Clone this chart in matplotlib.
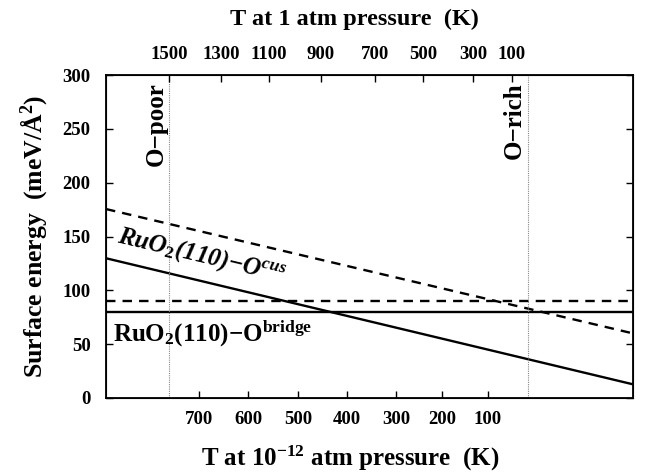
import matplotlib
matplotlib.use("Agg")
import matplotlib.pyplot as plt

# ---- data (x = oxygen chemical potential, eV) ----
x_range = [-2.0, 0.5]
gamma_cus_sloped = [175.5, 60.0]      # dashed sloped line
gamma_bridge_sloped = [129.8, 12.7]   # solid sloped line
gamma_cus_flat = 90.4                 # dashed horizontal
gamma_bridge_flat = 80.2              # solid horizontal
mu_O_poor = -1.70
mu_O_rich = 0.0

top_tick_pos = [-1.701, -1.454, -1.227, -0.980, -0.724, -0.496, -0.259, -0.074]
top_tick_labels = ["1500", "1300", "1100", "900", "700", "500", "300", "100"]
bot_tick_pos = [-1.559, -1.326, -1.089, -0.857, -0.624, -0.406, -0.188]
bot_tick_labels = ["700", "600", "500", "400", "300", "200", "100"]
y_ticks = [0, 50, 100, 150, 200, 250, 300]

plt.rcParams['font.family'] = ['Liberation Serif', 'DejaVu Serif']
plt.rcParams['font.weight'] = 'bold'
plt.rcParams['mathtext.fontset'] = 'custom'
plt.rcParams['mathtext.rm'] = 'Liberation Serif:bold'
plt.rcParams['mathtext.bf'] = 'Liberation Serif:bold'
plt.rcParams['mathtext.it'] = 'Liberation Serif:bold:italic'

fig = plt.figure(figsize=(6.45, 4.74), dpi=100)
ax = fig.add_axes([106/645, 1-398/474, (633-106)/645, (398-75)/474])

lw = 1.7
ax.plot(x_range, gamma_bridge_sloped, color='black', lw=lw, solid_capstyle='butt')
ax.plot(x_range, gamma_cus_sloped, color='black', lw=lw, ls=(0, (4, 3)))
ax.plot(x_range, [gamma_bridge_flat]*2, color='black', lw=lw)
ax.plot(x_range, [gamma_cus_flat]*2, color='black', lw=lw, ls=(0, (4, 3)))
ax.axvline(mu_O_poor, color='#888888', lw=0.8, ls=(0, (1, 1)))
ax.axvline(mu_O_rich, color='#888888', lw=0.8, ls=(0, (1, 1)))

ax.set_xlim(x_range)
ax.set_ylim(0, 300)
ax.set_yticks(y_ticks)
ax.set_xticks(bot_tick_pos)
ax.set_xticklabels(bot_tick_labels)
ax.tick_params(axis='both', direction='in', length=5, width=1, labelsize=13.5)
ax.tick_params(axis='x', pad=9)
ax.tick_params(axis='y', right=True, pad=11)
for s in ax.spines.values():
    s.set_linewidth(1.3)

axt = ax.twiny()
axt.set_xlim(x_range)
axt.set_xticks(top_tick_pos)
axt.set_xticklabels(top_tick_labels)
axt.tick_params(axis='x', direction='in', length=5, width=1, labelsize=13.5, pad=9)

ax.set_xlabel(r'T at 10$^{-12}$ atm pressure  (K)', fontsize=18, fontweight='bold', labelpad=11.5)
axt.set_xlabel('T at 1 atm pressure  (K)', fontsize=17.5, fontweight='bold', labelpad=14.5)
ax.set_ylabel(r'Surface energy  (meV/Å$^{2}$)', fontsize=18.5, fontweight='bold', labelpad=10)
ax.xaxis.label.set_x(0.463)
axt.xaxis.label.set_x(0.472)

ax.text(-1.545, 132, r'RuO$_{\mathit{2}}$(110)−O$^{\mathit{cus}}$', fontsize=18,
        fontstyle='italic', fontweight='bold', rotation=-13.4,
        ha='center', va='center', rotation_mode='anchor')
ax.text(-1.965, 53, r'RuO$_{2}$(110)−O$^{\mathrm{bridge}}$', fontsize=18,
        fontweight='bold', ha='left', va='baseline')
ax.text(mu_O_poor - 0.008, 293, 'O−poor', fontsize=18, fontweight='bold',
        rotation=90, ha='right', va='top')
ax.text(mu_O_rich - 0.008, 293, 'O−rich', fontsize=18, fontweight='bold',
        rotation=90, ha='right', va='top')

fig.savefig('out.png', dpi=100)
